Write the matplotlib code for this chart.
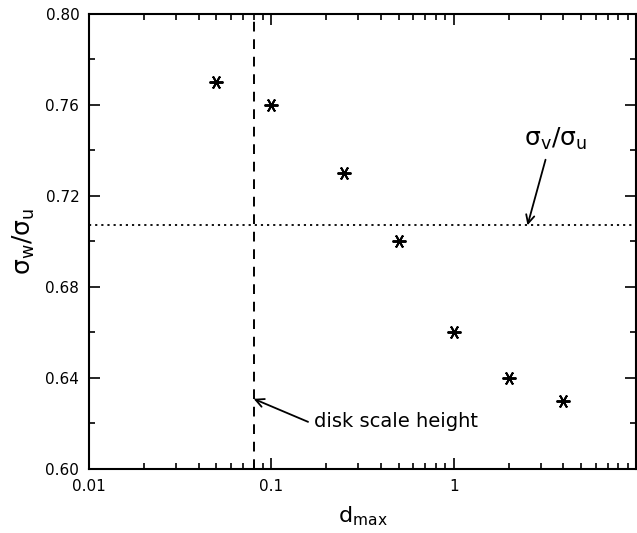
import matplotlib
matplotlib.use("Agg")
import matplotlib.pyplot as plt
from matplotlib.ticker import NullFormatter, LogLocator, MultipleLocator

d_max = [0.05, 0.1, 0.25, 0.5, 1.0, 2.0, 4.0]
ratio_wu = [0.77, 0.76, 0.73, 0.70, 0.66, 0.64, 0.63]
ratio_vu = 0.707
disk_scale_height = 0.08
xticks = [0.01, 0.1, 1]
xtick_labels = ["0.01", "0.1", "1"]
yticks = [0.60, 0.64, 0.68, 0.72, 0.76, 0.80]
ytick_labels = ["0.60", "0.64", "0.68", "0.72", "0.76", "0.80"]

fig = plt.figure(figsize=(6.37, 5.33), dpi=100)
ax = fig.add_axes([89/637, 1-469/533, (636-89)/637, (469-13.5)/533])

ax.plot(d_max, ratio_wu, linestyle="none", marker=(6, 2, 30), markersize=10,
        markeredgewidth=1.4, color="black")
ax.axhline(ratio_vu, color="black", linestyle=(0, (1.2, 2.2)), linewidth=1.3)
ax.axvline(disk_scale_height, color="black", linestyle=(0, (5, 4)), linewidth=1.4)

ax.set_xscale("log")
ax.set_xlim(0.01, 10)
ax.set_ylim(0.60, 0.80)
ax.set_xticks(xticks)
ax.set_xticklabels(xtick_labels)
ax.xaxis.set_minor_locator(LogLocator(base=10, subs=range(2, 10)))
ax.xaxis.set_minor_formatter(NullFormatter())
ax.set_yticks(yticks)
ax.set_yticklabels(ytick_labels)
ax.yaxis.set_minor_locator(MultipleLocator(0.02))

ax.tick_params(which="both", direction="in", top=True, right=True, labelsize=11,
               colors="black", width=1.2)
ax.tick_params(which="major", length=8, pad=7)
ax.tick_params(which="minor", length=4)
for s in ax.spines.values():
    s.set_linewidth(1.5)

ax.set_xlabel(r"$\mathregular{d_{max}}$", fontsize=16, labelpad=8)
ax.set_ylabel(r"$\mathregular{\sigma_w/\sigma_u}$", fontsize=18, labelpad=6)

# sigma_v/sigma_u label and arrow
ax.text(3.6, 0.745, r"$\mathregular{\sigma_v/\sigma_u}$", ha="center", va="center", fontsize=18)
ax.annotate("", xy=(2.54, ratio_vu), xytext=(3.19, 0.7358),
            arrowprops=dict(arrowstyle="->", color="black", lw=1.3, shrinkA=0, shrinkB=0,
                            mutation_scale=15))
# disk scale height label and arrow
ax.text(0.172, 0.6207, "disk scale height", ha="left", va="center", fontsize=14)
ax.annotate("", xy=(disk_scale_height, 0.6308), xytext=(0.159, 0.6207),
            arrowprops=dict(arrowstyle="->", color="black", lw=1.3, shrinkA=0, shrinkB=0,
                            mutation_scale=15))

fig.savefig("out.png", dpi=100)
